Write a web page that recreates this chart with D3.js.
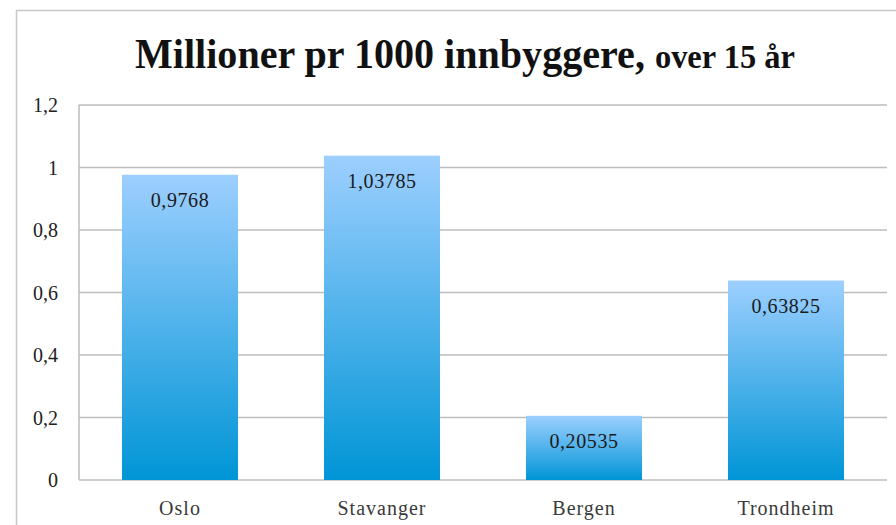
<!DOCTYPE html>
<html>
<head>
<meta charset="utf-8">
<script src="https://cdn.jsdelivr.net/npm/d3@7/dist/d3.min.js"></script>
<style>
  html, body { margin: 0; padding: 0; background: #fff; }
  svg { display: block; }
  text { font-family: "Liberation Serif", "DejaVu Serif", serif; }
</style>
</head>
<body>
<svg id="chart" width="896" height="525"></svg>
<script>
// Data
const cities = ["Oslo", "Stavanger", "Bergen", "Trondheim"];
const values = [0.9768, 1.03785, 0.20535, 0.63825];
const valueLabels = ["0,9768", "1,03785", "0,20535", "0,63825"];
const yTicks = [0, 0.2, 0.4, 0.6, 0.8, 1, 1.2];
const titleMain = "Millioner pr 1000 innbyggere,";
const titleSub = "over 15 år";

const svg = d3.select("#chart");
const W = 896, H = 525;
const margin = { left: 79, right: 9, top: 105, bottom: 45 };
const plotW = W - margin.left - margin.right;
const plotH = H - margin.top - margin.bottom;

// Chart frame
svg.append("rect")
  .attr("x", 16.5).attr("y", 10.5)
  .attr("width", 900).attr("height", 540)
  .attr("fill", "#fff").attr("stroke", "#c8c8c8").attr("stroke-width", 1.5);

// Bar gradient
const defs = svg.append("defs");
const grad = defs.append("linearGradient")
  .attr("id", "barGrad").attr("x1", 0).attr("y1", 0).attr("x2", 0).attr("y2", 1);
grad.append("stop").attr("offset", "0%").attr("stop-color", "#9dcfff");
grad.append("stop").attr("offset", "100%").attr("stop-color", "#0095d6");

const x = d3.scaleBand().domain(cities).range([0, plotW]).paddingInner(0.426).paddingOuter(0.213);
const y = d3.scaleLinear().domain([0, 1.2]).range([plotH, 0]);

const g = svg.append("g").attr("transform", `translate(${margin.left},${margin.top})`);

// Gridlines
g.append("g").selectAll("line").data(yTicks).join("line")
  .attr("x1", 0).attr("x2", plotW)
  .attr("y1", d => y(d)).attr("y2", d => y(d))
  .attr("stroke", "#bdbdbd").attr("stroke-width", 1.5);

// Vertical axis line
g.append("line").attr("x1", 0).attr("x2", 0).attr("y1", 0).attr("y2", plotH)
  .attr("stroke", "#bdbdbd").attr("stroke-width", 1.5);

// Y tick labels
const fmt = d => d3.format("~g")(d).replace(".", ",");
g.append("g").selectAll("text").data(yTicks).join("text")
  .attr("x", -21).attr("y", d => y(d)).attr("dy", "0.35em")
  .attr("text-anchor", "end").attr("font-size", 20).attr("fill", "#222")
  .text(fmt);

// Bars
const barW = 116;
g.append("g").selectAll("rect").data(cities).join("rect")
  .attr("x", d => x(d) + x.bandwidth() / 2 - barW / 2)
  .attr("width", barW)
  .attr("y", (d, i) => y(values[i]))
  .attr("height", (d, i) => plotH - y(values[i]))
  .attr("fill", "url(#barGrad)");

// Value labels
g.append("g").selectAll("text").data(cities).join("text")
  .attr("x", d => x(d) + x.bandwidth() / 2)
  .attr("y", (d, i) => y(values[i]) + 32)
  .attr("text-anchor", "middle").attr("font-size", 20).attr("fill", "#1a1a1a")
  .attr("letter-spacing", 0.6)
  .text((d, i) => valueLabels[i]);

// Category labels
g.append("g").selectAll("text").data(cities).join("text")
  .attr("x", d => x(d) + x.bandwidth() / 2)
  .attr("y", plotH + 35)
  .attr("text-anchor", "middle").attr("font-size", 20).attr("fill", "#3a3a3a")
  .attr("letter-spacing", 1)
  .text(d => d);

// Title: bold main part followed by a smaller bold qualifier, in one text element,
// narrowed horizontally to a condensed look
const title = svg.append("text")
  .attr("x", 0).attr("y", 0)
  .attr("font-weight", "bold").attr("fill", "#111");
title.append("tspan").attr("font-size", 42).text(titleMain + " ");
title.append("tspan").attr("font-size", 34).text(titleSub);
const natural = title.node().getComputedTextLength();
const sx = 660 / natural;
title.attr("transform", `translate(135,68) scale(${sx},1)`);
</script>
</body>
</html>
